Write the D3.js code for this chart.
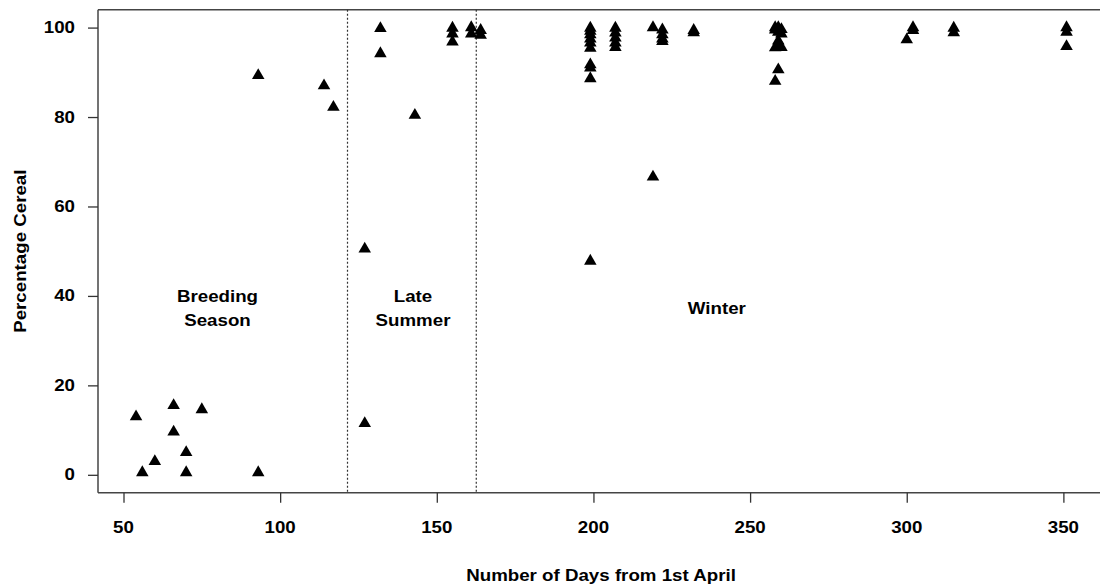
<!DOCTYPE html>
<html>
<head>
<meta charset="utf-8">
<script src="https://cdn.jsdelivr.net/npm/d3@7"></script>
<style>
  html, body { margin: 0; padding: 0; background: #fff; overflow: hidden; }
  svg { display: block; font-family: "Liberation Sans", Arial, sans-serif; }
</style>
</head>
<body>
<svg id="chart" width="1100" height="586"></svg>
<script>
// ---- data ----
const days = [
  54, 56, 60, 66, 66, 70, 70, 75, 93, 93,
  114, 117, 127, 127, 132, 132, 143,
  155, 155, 155, 161, 161, 164, 164,
  199, 199, 199, 199, 199, 199, 199, 199, 199, 199,
  207, 207, 207, 207, 207,
  219, 219, 222, 222, 222, 222, 232, 232,
  258, 258, 258, 258, 259, 259, 259, 259, 259, 260, 260, 260,
  300, 302, 302, 315, 315,
  351, 351, 351
];
const cereal = [
  13, 0.5, 3, 15.5, 9.6, 5, 0.5, 14.6, 0.5, 89.3,
  87, 82.2, 11.5, 50.5, 99.8, 94.2, 80.4,
  99.9, 98.6, 96.8, 100, 98.6, 99.4, 98.3,
  99.9, 99.2, 98.4, 97.5, 96.6, 95.4, 91.7, 91.0, 88.6, 47.8,
  99.9, 98.8, 97.7, 96.6, 95.6,
  100, 66.6, 99.5, 98.4, 97.5, 96.9, 99.4, 98.9,
  100, 99.5, 95.5, 88, 100, 99, 97, 96, 90.6, 99.6, 98.6, 95.6,
  97.3, 100, 99.4, 99.9, 98.9,
  100, 99, 95.8
];
const xTicks = [50, 100, 150, 200, 250, 300, 350];
const yTicks = [0, 20, 40, 60, 80, 100];
const seasonBounds = [121.5, 162.6];
const seasonLabels = [["Breeding", "Season"], ["Late", "Summer"], ["Winter"]];
const seasonLabelDay = [80, 142.4, 239.4];
const seasonLabelPct = [37.3, 37.3, 37.3];
const xTitle = "Number of Days from 1st April";
const yTitle = "Percentage Cereal";

// ---- layout ----
const L = 98, R = 1106, T = 9.7, B = 492.7;
const SX = 1.17;        // horizontal stretch of the reference's lettering
const FS = "16px";
const svg = d3.select("#chart");
const x = d3.scaleLinear().domain([41.86, 363.6]).range([L, R]);
const y = d3.scaleLinear().domain([-4, 104]).range([B, T]);

function label(parent, px, py, txt, anchor, rotate) {
  const g = parent.append("g")
    .attr("transform", `translate(${px},${py})${rotate ? ` rotate(${rotate})` : ""} scale(${SX},1)`);
  g.append("text")
    .attr("text-anchor", anchor || "middle")
    .attr("dominant-baseline", "central")
    .style("font-size", FS).style("font-weight", "bold")
    .attr("fill", "#000")
    .text(txt);
}

// plot frame (right side falls outside the picture)
const frame = svg.append("g").attr("stroke", "#444").attr("stroke-width", 1.5).attr("fill", "none");
frame.append("line").attr("x1", L).attr("x2", 1100).attr("y1", T).attr("y2", T);
frame.append("line").attr("x1", L).attr("x2", 1100).attr("y1", B).attr("y2", B);
frame.append("line").attr("x1", L).attr("x2", L).attr("y1", T).attr("y2", B);

// axes (ticks via d3 axes, labels stretched like the reference)
const xAxis = svg.append("g").attr("transform", `translate(0,${B})`)
  .call(d3.axisBottom(x).tickValues(xTicks).tickSize(10).tickFormat(""));
const yAxis = svg.append("g").attr("transform", `translate(${L},0)`)
  .call(d3.axisLeft(y).tickValues(yTicks).tickSize(10).tickFormat(""));
[xAxis, yAxis].forEach(g => {
  g.select(".domain").remove();
  g.selectAll(".tick line").attr("stroke", "#333").attr("stroke-width", 1.3);
});
xTicks.forEach(t => label(svg, x(t), 527, d3.format("d")(t), "middle"));
yTicks.forEach(t => label(svg, 75, y(t), d3.format("d")(t), "end"));

// season boundaries
svg.append("g").selectAll("line").data(seasonBounds).join("line")
  .attr("x1", d => x(d)).attr("x2", d => x(d))
  .attr("y1", T).attr("y2", B)
  .attr("stroke", "#333").attr("stroke-width", 1.2)
  .attr("stroke-dasharray", "2,2");

// season labels
seasonLabels.forEach((lines, i) => {
  const cx = x(seasonLabelDay[i]);
  const cy = y(seasonLabelPct[i]);
  const n = lines.length;
  const lh = 24;
  lines.forEach((t, j) => label(svg, cx, cy + (j - (n - 1) / 2) * lh, t, "middle"));
});

// points
const tri = d3.symbol().type(d3.symbolTriangle).size(68);
svg.append("g").selectAll("path").data(days.map((d, i) => [d, cereal[i]])).join("path")
  .attr("d", tri)
  .attr("transform", d => `translate(${x(d[0])},${y(d[1])})`)
  .attr("fill", "#000");

// axis titles
label(svg, 601, 575, xTitle, "middle");
label(svg, 20, (T + B) / 2, yTitle, "middle", -90);
</script>
</body>
</html>
